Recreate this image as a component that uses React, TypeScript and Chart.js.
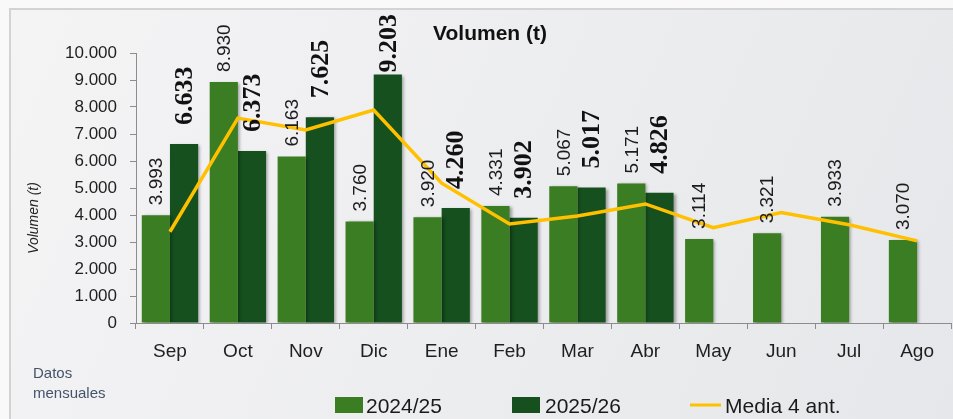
import React, { useEffect, useRef } from 'react';
import { Chart, registerables } from 'chart.js';

Chart.register(...registerables);

const categories = ['Sep', 'Oct', 'Nov', 'Dic', 'Ene', 'Feb', 'Mar', 'Abr', 'May', 'Jun', 'Jul', 'Ago'];
const vol2425 = [3993, 8930, 6163, 3760, 3920, 4331, 5067, 5171, 3114, 3321, 3933, 3070];
const vol2526: (number | null)[] = [6633, 6373, 7625, 9203, 4260, 3902, 5017, 4826, null, null, null, null];
const media4 = [3380, 7590, 7150, 7890, 5180, 3670, 3960, 4410, 3530, 4090, 3640, 3040];
const seriesNames = ['2024/25', '2025/26', 'Media 4 ant.'];
const chartTitle = 'Volumen (t)';
const yTitle = 'Volumen (t)';
const noteLines = ['Datos', 'mensuales'];

const LIGHT = '#3b7d23';
const DARK = '#15501e';
const YELLOW = '#ffc000';
const SANS = "'Liberation Sans', Arial, sans-serif";
const SERIF = "'Liberation Serif', 'Times New Roman', serif";

const fmt = (v: number) => String(Math.round(v)).replace(/\B(?=(\d{3})+(?!\d))/g, '.');

export default function App() {
  const ref = useRef<HTMLCanvasElement>(null);

  useEffect(() => {
    const canvas = ref.current!;

    const bgPlugin = {
      id: 'bgFrame',
      beforeDraw(chart: any) {
        const { ctx, width, height } = chart;
        ctx.save();
        ctx.fillStyle = '#f9f9f9';
        ctx.fillRect(0, 0, width, height);
        const g = ctx.createLinearGradient(10, 9, width, height);
        g.addColorStop(0, '#f4f4f5');
        g.addColorStop(1, '#e6e7ea');
        ctx.fillStyle = g;
        ctx.fillRect(10, 9, width - 10, height - 9);
        ctx.strokeStyle = '#d3d3d3';
        ctx.lineWidth = 2;
        ctx.beginPath();
        ctx.moveTo(10, height);
        ctx.lineTo(10, 9);
        ctx.lineTo(width, 9);
        ctx.stroke();
        ctx.restore();
      },
    };

    const shadowPlugin = {
      id: 'barShadow',
      beforeDatasetDraw(chart: any, args: any) {
        if (args.meta.type !== 'bar') return;
        const ctx = chart.ctx;
        ctx.save();
        ctx.shadowColor = 'rgba(0,0,0,0.35)';
        ctx.shadowOffsetX = 2;
        ctx.shadowOffsetY = 1;
        ctx.shadowBlur = 3;
      },
      afterDatasetDraw(chart: any, args: any) {
        if (args.meta.type !== 'bar') return;
        chart.ctx.restore();
      },
    };

    const labelPlugin = {
      id: 'barLabels',
      afterDatasetsDraw(chart: any) {
        const ctx = chart.ctx;
        ctx.save();
        [0, 1].forEach((di) => {
          const meta = chart.getDatasetMeta(di);
          const data = chart.data.datasets[di].data;
          meta.data.forEach((el: any, i: number) => {
            const v = data[i];
            if (v === null || v === undefined) return;
            const text = fmt(v as number);
            if (di === 0) {
              ctx.font = `19px ${SANS}`;
              ctx.fillStyle = '#1c1c1c';
            } else {
              ctx.font = `bold 26px ${SERIF}`;
              ctx.fillStyle = '#111';
            }
            const len = ctx.measureText(text).width;
            let bottom = el.y - (di === 0 ? 10 : 19);
            if (bottom - len < 14) bottom = 14 + len;
            ctx.save();
            ctx.translate(el.x + 1, bottom);
            ctx.rotate(-Math.PI / 2);
            ctx.textAlign = 'left';
            ctx.textBaseline = 'middle';
            ctx.fillText(text, 0, 0);
            ctx.restore();
          });
        });
        ctx.restore();
      },
    };

    const textPlugin = {
      id: 'texts',
      afterDraw(chart: any) {
        const ctx = chart.ctx;
        ctx.save();
        ctx.font = `bold 21px ${SANS}`;
        ctx.fillStyle = '#111';
        ctx.textAlign = 'center';
        ctx.textBaseline = 'alphabetic';
        ctx.fillText(chartTitle, 490, 40);
        ctx.save();
        ctx.translate(38, 218);
        ctx.rotate(-Math.PI / 2);
        ctx.font = `italic 14px ${SANS}`;
        ctx.fillStyle = '#262626';
        ctx.textAlign = 'center';
        ctx.textBaseline = 'alphabetic';
        ctx.fillText(yTitle, 0, 0);
        ctx.restore();
        ctx.font = `15px ${SANS}`;
        ctx.fillStyle = '#44546a';
        ctx.textAlign = 'left';
        ctx.fillText(noteLines[0], 33, 378);
        ctx.fillText(noteLines[1], 33, 398);
        ctx.font = `21px ${SANS}`;
        ctx.fillStyle = LIGHT;
        ctx.fillRect(335, 397, 28, 16);
        ctx.fillStyle = DARK;
        ctx.fillRect(512, 397, 28, 16);
        ctx.strokeStyle = YELLOW;
        ctx.lineWidth = 3;
        ctx.beginPath();
        ctx.moveTo(690, 405);
        ctx.lineTo(721, 405);
        ctx.stroke();
        ctx.fillStyle = '#1a1a1a';
        ctx.fillText(seriesNames[0], 366, 413);
        ctx.fillText(seriesNames[1], 545, 413);
        ctx.fillText(seriesNames[2], 725, 413);
        ctx.restore();
      },
    };

    const chart = new Chart(canvas, {
      type: 'bar',
      data: {
        labels: categories,
        datasets: [
          {
            type: 'bar',
            label: seriesNames[0],
            data: vol2425,
            backgroundColor: LIGHT,
            borderWidth: 0,
            categoryPercentage: 0.83,
            barPercentage: 1,
            order: 1,
          },
          {
            type: 'bar',
            label: seriesNames[1],
            data: vol2526,
            backgroundColor: DARK,
            borderWidth: 0,
            categoryPercentage: 0.83,
            barPercentage: 1,
            order: 1,
          },
          {
            type: 'line',
            label: seriesNames[2],
            data: media4,
            borderColor: YELLOW,
            backgroundColor: YELLOW,
            borderWidth: 3.5,
            pointRadius: 0,
            tension: 0,
            fill: false,
            order: 0,
          },
        ] as any,
      },
      options: {
        responsive: false,
        animation: false,
        devicePixelRatio: 1,
        layout: { padding: { left: 0, right: 2, top: 53, bottom: 56 } },
        plugins: {
          legend: { display: false },
          tooltip: { enabled: false },
          title: { display: false },
        },
        scales: {
          x: {
            type: 'category',
            grid: {
              offset: true,
              drawOnChartArea: false,
              drawTicks: true,
              tickLength: 6,
              color: '#8c8c8c',
            },
            border: { display: true, color: '#8c8c8c', width: 1 },
            ticks: {
              font: { family: SANS, size: 19 },
              color: '#1f1f1f',
              padding: 11,
              maxRotation: 0,
              autoSkip: false,
            },
            afterFit: (s: any) => {
              s.height = 40;
            },
          },
          y: {
            min: 0,
            max: 10000,
            grid: {
              drawOnChartArea: false,
              drawTicks: true,
              tickLength: 6,
              color: '#8c8c8c',
            },
            border: { display: true, color: '#8c8c8c', width: 1 },
            ticks: {
              stepSize: 1000,
              font: { family: SANS, size: 17 },
              color: '#1f1f1f',
              padding: 13,
              callback: (v: any) => fmt(Number(v)),
            },
            afterFit: (s: any) => {
              s.width = 136;
            },
          },
        },
      } as any,
      plugins: [bgPlugin, shadowPlugin, labelPlugin, textPlugin],
    });

    return () => chart.destroy();
  }, []);

  return (
    <div style={{ position: 'absolute', left: 0, top: 0, width: 953, height: 419 }}>
      <canvas ref={ref} width={953} height={419} style={{ display: 'block', width: 953, height: 419 }} />
    </div>
  );
}
